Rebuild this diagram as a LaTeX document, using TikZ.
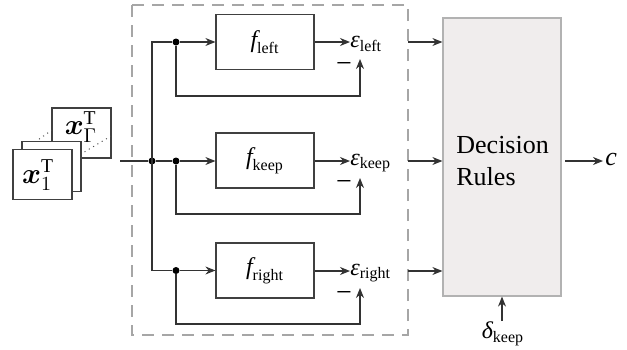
\documentclass[tikz,border=0pt]{standalone}
\usepackage{amsmath,amssymb,bm}
\usepackage{fontspec}
\setmainfont{Liberation Serif}
\usetikzlibrary{arrows.meta,calc}
\newcommand{\ff}{\text{\itshape f}}
\newcommand{\ee}{\text{\itshape ε}}
\definecolor{drfill}{RGB}{240,237,237}
\definecolor{drline}{RGB}{178,178,178}
\begin{document}
\begin{tikzpicture}[x=0.5pt,y=-0.5pt,
  every node/.style={font=\fontsize{12}{14}\selectfont},
  fbox/.style={draw=black!75,line width=0.6pt,minimum width=49pt,minimum height=27.5pt,inner sep=0pt},
  stackbox/.style={draw=black!75,fill=white,line width=0.6pt,minimum width=29.5pt,minimum height=25pt,inner sep=0pt},
  stacklbl/.style={inner sep=0pt,font=\fontsize{14}{16}\selectfont},
  wire/.style={draw=black!80,line width=0.6pt},
  arr/.style={wire,-{Stealth[length=5pt,width=4pt]}},
  dot/.style={circle,fill=black,inner sep=0pt,minimum size=3.5pt},
  lbl/.style={anchor=west,inner sep=0pt},
  minus/.style={inner sep=0pt,font=\fontsize{14}{16}\selectfont}]
\useasboundingbox (0,0) rectangle (627,349);
% dashed frame
\draw[gray!70,dashed,dash pattern=on 6pt off 4pt,line width=0.6pt] (132,5) rectangle (408,335);
% input stack
\node[stackbox] (sG) at (81.5,133) {};
\node[stacklbl] (xG) at (81,127) {$\bm{x}^{\mathrm{T}}_{\Gamma}$};
\draw[black!70,dotted,line width=0.5pt] (35,142) -- (52,130);
\draw[black!70,dotted,line width=0.5pt] (76,157) -- (111,136);
\node[stackbox] (sM) at (51.5,166.5) {};
\node[stackbox] (s1) at (42.5,174.5) {};
\node[stacklbl] (x1) at (38,175) {$\bm{x}^{\mathrm{T}}_{1}$};
\coordinate (in) at (120,161);
% function boxes
\node[fbox] (fL) at (265,42) {$\ff_{\text{left}}$};
\node[fbox] (fK) at (265,160.5) {$\ff_{\text{keep}}$};
\node[fbox] (fR) at (265,270.5) {$\ff_{\text{right}}$};
% junctions
\node[dot] (j0) at (152,161) {};
\node[dot] (jL) at (176,42) {};
\node[dot] (jK) at (176,161) {};
\node[dot] (jR) at (176,270.5) {};
\draw[wire] (in) -- (j0);
\draw[wire] (jL) -| (152,270.5) -- (jR);
\draw[wire] (j0) -- (jK);
\draw[arr] (jL) -- (fL);
\draw[arr] (jK) -- (fK.west |- jK);
\draw[arr] (jR) -- (fR);
% error labels
\node[lbl] (eL) at (350,44) {$\ee_{\text{left}}$};
\node[lbl] (eK) at (350,163) {$\ee_{\text{keep}}$};
\node[lbl] (eR) at (350,273) {$\ee_{\text{right}}$};
\draw[arr] (fL) -- (fL.east -| eL.west);
\draw[arr] (fK.east |- 0,161) -- (eK.west |- 0,161);
\draw[arr] (fR.east |- 0,271) -- (eR.west |- 0,271);
% feedback
\coordinate (tL) at (360,59);
\coordinate (tK) at (360,178);
\coordinate (tR) at (360,288);
\draw[arr] (jL) |- (176,96) -| (tL);
\draw[arr] (jK) |- (176,214) -| (tK);
\draw[arr] (jR) |- (176,324) -| (tR);
\node[minus] (mL) at (344,67) {−};
\node[minus] (mK) at (344,185) {−};
\node[minus] (mR) at (344,296) {−};
% decision rules
\node[draw=drline,fill=drfill,line width=0.6pt,minimum width=59pt,minimum height=139pt,inner sep=0pt] (D) at (502,157) {};
\node[anchor=west,align=left,inner sep=0pt,font=\fontsize{13}{16}\selectfont] (Dt) at (456,161) {Decision\\Rules};
\coordinate (oL) at (408,42);
\coordinate (oK) at (408,161);
\coordinate (oR) at (408,271);
\draw[arr] (oL) -- (D.west |- oL);
\draw[arr] (oK) -- (D.west |- oK);
\draw[arr] (oR) -- (D.west |- oR);
% output
\node[lbl,font=\fontsize{13}{15}\selectfont] (c) at (605,159) {\textit{c}};
\draw[arr] (565,161) coordinate (cs) -- (603,161);
% delta
\node[inner sep=0pt] (dk) at (503,334) {$\text{\itshape δ}_{\text{keep}}$};
\draw[arr] (502,321) coordinate (ds) -- (D.south);
\end{tikzpicture}
\end{document}
